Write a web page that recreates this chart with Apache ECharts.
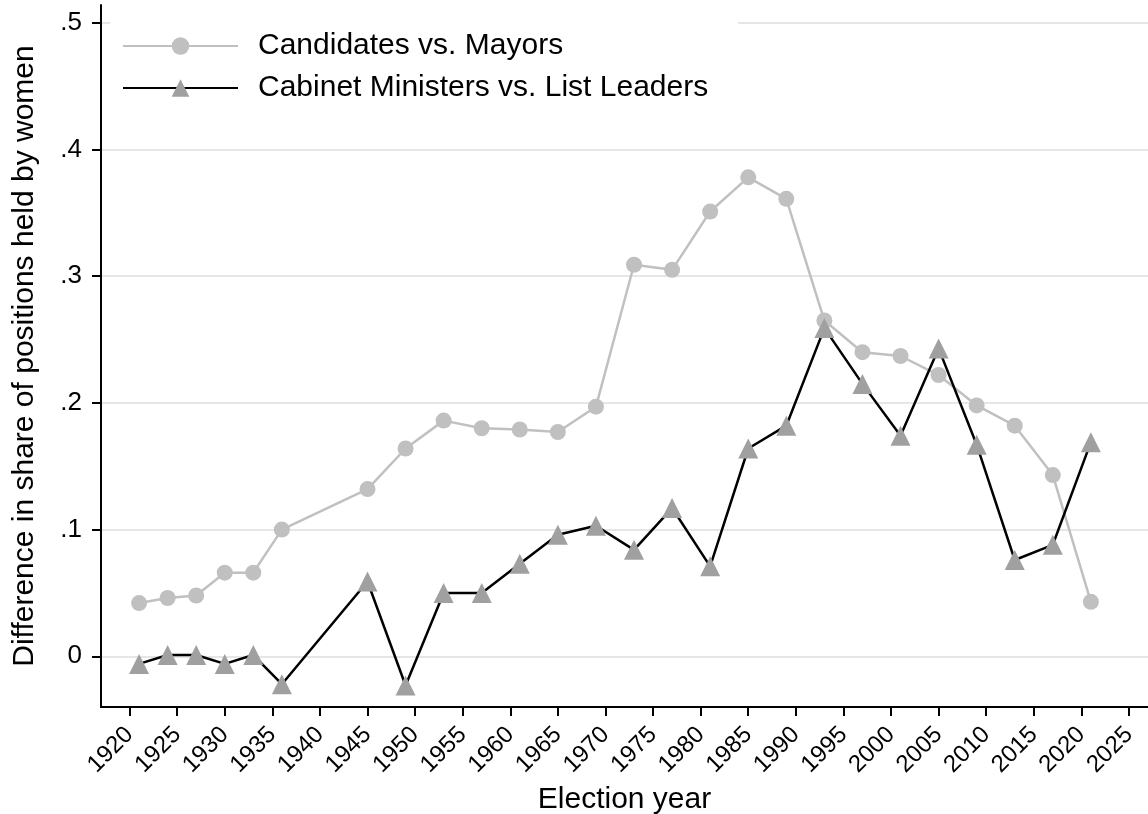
<!DOCTYPE html>
<html>
<head>
<meta charset="utf-8">
<script src="https://cdn.jsdelivr.net/npm/echarts@6/dist/echarts.min.js"></script>
<style>
  html, body { margin: 0; padding: 0; background: #fff; }
  #chart { width: 1148px; height: 814px; }
</style>
</head>
<body>
<div id="chart"></div>
<script>
// election years (Norway)
const years = [1921, 1924, 1927, 1930, 1933, 1936, 1945, 1949, 1953, 1957, 1961, 1965, 1969,
  1973, 1977, 1981, 1985, 1989, 1993, 1997, 2001, 2005, 2009, 2013, 2017, 2021]

const candidatesVsMayors = [0.042, 0.046, 0.048, 0.066, 0.066, 0.100, 0.132, 0.164, 0.186, 0.180,
  0.179, 0.177, 0.197, 0.309, 0.305, 0.351, 0.378, 0.361, 0.265, 0.240, 0.237, 0.222, 0.198,
  0.182, 0.143, 0.043]

const ministersVsLeaders = [-0.006, 0.001, 0.001, -0.006, 0.001, -0.022, 0.059, -0.023, 0.050, 0.050,
  0.073, 0.096, 0.103, 0.084, 0.117, 0.071, 0.164, 0.182, 0.259, 0.215, 0.174, 0.243, 0.167,
  0.076, 0.088, 0.169]

const xTicks = [1920, 1925, 1930, 1935, 1940, 1945, 1950, 1955, 1960, 1965, 1970, 1975, 1980,
  1985, 1990, 1995, 2000, 2005, 2010, 2015, 2020, 2025]
const yTicks = [0, 0.1, 0.2, 0.3, 0.4, 0.5]

const font = 'Liberation Sans, Arial, sans-serif'

const chart = echarts.init(document.getElementById('chart'))

chart.setOption({
  animation: false,
  textStyle: { fontFamily: font, color: '#000' },
  grid: { left: 101, right: 0, top: 5, bottom: 107, outerBoundsMode: 'none' },
  legend: {
    orient: 'vertical',
    left: 110,
    top: 0,
    padding: [31, 30, 12, 12],
    backgroundColor: '#fff',
    itemWidth: 115,
    itemHeight: 22,
    itemGap: 12,
    textStyle: { fontSize: 30, color: '#000', fontFamily: font, padding: [0, 0, 0, 15] },
    data: ['Candidates vs. Mayors', 'Cabinet Ministers vs. List Leaders']
  },
  xAxis: {
    type: 'value',
    min: 1917,
    max: 2027,
    name: 'Election year',
    nameLocation: 'middle',
    nameGap: 36,
    nameTextStyle: { fontSize: 30, color: '#000', fontFamily: font },
    axisLine: { show: true, onZero: false, lineStyle: { color: '#000', width: 2 } },
    axisTick: { show: true, length: 9, lineStyle: { color: '#000', width: 2 }, customValues: xTicks },
    axisLabel: { fontSize: 24, color: '#000', rotate: 45, margin: 24, customValues: xTicks, formatter: v => String(v) },
    splitLine: { show: false }
  },
  yAxis: {
    type: 'value',
    min: -0.04,
    max: 0.514,
    name: 'Difference in share of positions held by women',
    nameLocation: 'middle',
    nameGap: 61,
    nameTextStyle: { fontSize: 30, color: '#000', fontFamily: font },
    axisLine: { show: true, lineStyle: { color: '#000', width: 2 } },
    axisTick: { show: true, length: 9, lineStyle: { color: '#000', width: 2 }, customValues: yTicks },
    axisLabel: {
      fontSize: 26, color: '#000', margin: 19, customValues: yTicks,
      formatter: v => v === 0 ? '0' : String(Math.round(v * 10) / 10).replace(/^0/, '')
    },
    splitLine: { show: true, lineStyle: { color: '#e6e6e6', width: 2 } }
  },
  series: [
    {
      name: 'Candidates vs. Mayors',
      type: 'line',
      data: years.map((y, i) => [y, candidatesVsMayors[i]]),
      symbol: 'circle',
      symbolSize: 16,
      lineStyle: { color: '#c0c0c0', width: 2.5 },
      itemStyle: { color: '#c0c0c0' }
    },
    {
      name: 'Cabinet Ministers vs. List Leaders',
      type: 'line',
      data: years.map((y, i) => [y, ministersVsLeaders[i]]),
      symbol: 'triangle',
      symbolSize: 20,
      lineStyle: { color: '#000', width: 2.5 },
      itemStyle: { color: '#a0a0a0' }
    }
  ]
})
</script>
</body>
</html>
